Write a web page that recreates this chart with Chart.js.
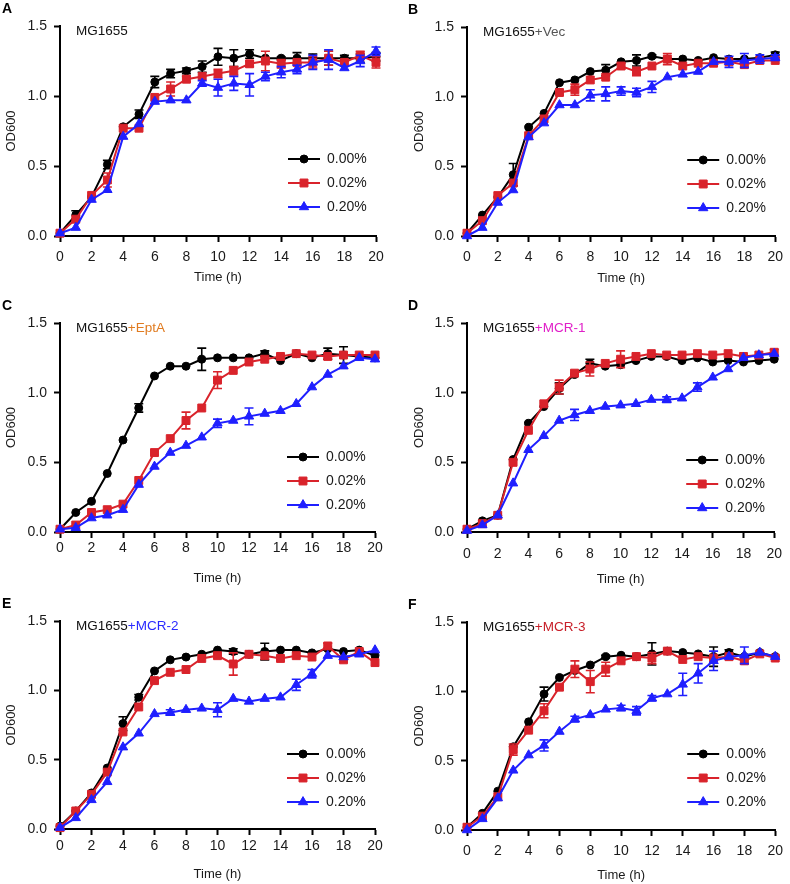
<!DOCTYPE html>
<html>
<head>
<meta charset="utf-8">
<script src="https://cdn.jsdelivr.net/npm/chart.js@4.4.0/dist/chart.umd.min.js"></script>
<style>
  body { margin: 0; background: #fff; }
  #page { position: relative; width: 790px; height: 884px; overflow: hidden; background: #fff; }
  #page canvas { position: absolute; }
</style>
</head>
<body>
<div id="page"></div>
<script>
// time points (h) and legend labels
const hours = [0,1,2,3,4,5,6,7,8,9,10,11,12,13,14,15,16,17,18,19,20];
const doseLabels = ['0.00%', '0.02%', '0.20%'];
const panelLetters = ['A', 'B', 'C', 'D', 'E', 'F'];
const strainBase = 'MG1655';
const strainSuffix = ['', '+Vec', '+EptA', '+MCR-1', '+MCR-2', '+MCR-3'];

// A - MG1655
const aCtrl = [0.02,0.15,0.28,0.51,0.78,0.87,1.10,1.16,1.18,1.21,1.28,1.27,1.30,1.27,1.27,1.27,1.27,1.27,1.27,1.27,1.28];
const aLow  = [0.02,0.12,0.29,0.40,0.77,0.77,0.99,1.05,1.12,1.14,1.16,1.18,1.23,1.25,1.23,1.24,1.24,1.27,1.24,1.29,1.24];
const aHigh = [0.02,0.06,0.26,0.33,0.71,0.80,0.96,0.97,0.97,1.09,1.06,1.09,1.08,1.14,1.17,1.19,1.24,1.26,1.20,1.25,1.32];
const aCtrlErr = [0,.03,0,.03,0,.03,.04,.03,.02,.04,.06,.06,.03,0,.01,.04,.03,.05,.02,.03,.03];
const aLowErr  = [0,0,0,.05,0,0,0,.05,.02,0,.03,.03,.02,.07,.03,0,.04,.05,0,.03,.04];
const aHighErr = [0,0,0,0,0,0,0,0,0,.02,.06,.05,.08,.03,.04,.03,.05,.07,0,.04,.03];

// B - MG1655+Vec
const bCtrl = [0.02,0.15,0.28,0.44,0.78,0.88,1.10,1.12,1.18,1.19,1.25,1.26,1.29,1.27,1.27,1.26,1.28,1.27,1.27,1.28,1.30];
const bLow  = [0.02,0.11,0.29,0.38,0.72,0.84,1.03,1.05,1.12,1.14,1.22,1.18,1.22,1.27,1.22,1.24,1.24,1.25,1.23,1.26,1.26];
const bHigh = [0.00,0.06,0.24,0.33,0.71,0.81,0.94,0.94,1.01,1.02,1.04,1.03,1.07,1.14,1.16,1.18,1.25,1.25,1.26,1.27,1.28];
const bCtrlErr = [0,0,0,.08,0,0,0,0,0,.04,0,.04,.01,0,0,0,0,0,0,0,.02];
const bLowErr  = [0,0,0,0,0,0,.02,.04,0,0,.02,.03,0,.04,0,0,0,0,0,0,0];
const bHighErr = [0,0,0,0,0,0,0,0,.04,.05,.03,.03,.04,0,0,0,0,.04,.05,.03,.02];

// C - MG1655+EptA
const cCtrl = [0.02,0.14,0.22,0.42,0.66,0.89,1.12,1.19,1.19,1.24,1.25,1.25,1.25,1.28,1.23,1.28,1.25,1.28,1.27,1.26,1.25];
const cLow  = [0.02,0.05,0.14,0.16,0.20,0.37,0.57,0.67,0.80,0.89,1.09,1.16,1.22,1.24,1.26,1.28,1.27,1.26,1.27,1.27,1.27];
const cHigh = [0.02,0.03,0.10,0.12,0.16,0.34,0.47,0.57,0.62,0.68,0.78,0.80,0.83,0.85,0.87,0.92,1.04,1.13,1.19,1.25,1.24];
const cCtrlErr = [0,0,0,0,0,.03,0,0,0,.08,0,0,0,.02,0,0,0,.04,.06,0,0];
const cLowErr  = [0,0,0,0,0,0,0,0,.06,0,.06,0,0,0,0,0,0,0,0,0,0];
const cHighErr = [0,0,0,0,0,0,0,0,0,0,.03,0,.06,0,0,0,0,0,0,0,0];

// D - MG1655+MCR-1
const dCtrl = [0.02,0.08,0.12,0.52,0.78,0.90,1.03,1.13,1.21,1.19,1.20,1.23,1.26,1.26,1.23,1.25,1.22,1.23,1.22,1.23,1.24];
const dLow  = [0.02,0.06,0.12,0.50,0.73,0.92,1.04,1.14,1.17,1.21,1.24,1.26,1.28,1.27,1.27,1.28,1.27,1.28,1.26,1.27,1.29];
const dHigh = [0.01,0.05,0.12,0.35,0.59,0.69,0.80,0.84,0.87,0.90,0.91,0.92,0.95,0.95,0.96,1.04,1.11,1.17,1.25,1.27,1.28];
const dCtrlErr = [0,0,0,0,0,0,.04,0,.03,0,0,0,0,0,0,0,0,0,0,0,0];
const dLowErr  = [0,0,0,0,0,0,.05,0,.05,0,.06,0,0,0,0,0,0,0,0,0,.02];
const dHighErr = [0,0,0,0,0,0,0,.04,0,0,0,0,0,.02,0,.03,0,0,0,0,0];

// E - MG1655+MCR-2
const eCtrl = [0.02,0.13,0.26,0.44,0.76,0.95,1.14,1.22,1.24,1.26,1.29,1.28,1.26,1.28,1.29,1.29,1.27,1.30,1.28,1.29,1.25];
const eLow  = [0.01,0.13,0.25,0.41,0.70,0.88,1.07,1.13,1.15,1.23,1.25,1.19,1.26,1.25,1.23,1.25,1.24,1.32,1.22,1.28,1.20];
const eHigh = [0.01,0.08,0.21,0.34,0.59,0.69,0.83,0.84,0.86,0.87,0.86,0.94,0.92,0.94,0.95,1.04,1.12,1.25,1.24,1.26,1.29];
const eCtrlErr = [0,0,0,0,.05,.02,0,0,0,0,0,.02,0,.06,0,0,0,0,0,0,0];
const eLowErr  = [0,0,0,0,0,0,0,0,0,0,0,.08,0,0,0,0,0,.02,0,0,0];
const eHighErr = [0,0,0,0,0,0,0,.02,0,0,.05,0,0,0,0,.04,.03,0,0,0,0];

// F - MG1655+MCR-3
const fCtrl = [0.02,0.12,0.28,0.60,0.78,0.98,1.10,1.15,1.19,1.25,1.26,1.25,1.27,1.29,1.28,1.27,1.25,1.28,1.25,1.28,1.25];
const fLow  = [0.02,0.10,0.24,0.58,0.72,0.86,1.03,1.16,1.07,1.16,1.22,1.25,1.24,1.29,1.23,1.25,1.24,1.25,1.22,1.27,1.24];
const fHigh = [0.00,0.08,0.23,0.43,0.54,0.61,0.71,0.80,0.83,0.87,0.88,0.86,0.95,0.98,1.05,1.13,1.22,1.25,1.26,1.28,1.25];
const fCtrlErr = [0,0,0,0,0,.05,0,0,0,.01,0,0,.08,0,0,0,.07,.02,0,0,0];
const fLowErr  = [0,0,0,.04,0,.05,0,.06,.08,.05,0,0,.04,0,0,0,0,0,.02,0,0];
const fHighErr = [0,0,0,0,0,.04,0,.02,0,0,.02,.03,.02,0,.08,.07,.07,0,.06,0,0];

const FONT = '"Liberation Sans", Arial, Helvetica, sans-serif';
const seriesStyle = [
  { color: '#000000', pointStyle: 'circle',   radius: 4,   order: 3 },
  { color: '#d9232b', pointStyle: 'rect',     radius: 5.6, order: 2 },
  { color: '#1f1fff', pointStyle: 'triangle', radius: 5.4, order: 1 }
];
const suffixColors = ['#000', '#555555', '#e07b20', '#e020c8', '#2a2aff', '#c8202a'];

// panel boxes (plot area edges in page pixels)
const panels = [
  { col: 0,   padL: 0,  L: 60,  R: 376, T: 26,  B: 236, tickGap: 21, titleGap: 41, legTop: 133, vals: [aCtrl, aLow, aHigh], errs: [aCtrlErr, aLowErr, aHighErr] },
  { col: 395, padL: 13, L: 467, R: 782, T: 27,  B: 236, tickGap: 21, titleGap: 42, legTop: 133, vals: [bCtrl, bLow, bHigh], errs: [bCtrlErr, bLowErr, bHighErr] },
  { col: 0,   padL: 0,  L: 60,  R: 375, T: 323, B: 532, tickGap: 16, titleGap: 46, legTop: 134, vals: [cCtrl, cLow, cHigh], errs: [cCtrlErr, cLowErr, cHighErr] },
  { col: 395, padL: 13, L: 467, R: 782, T: 323, B: 532, tickGap: 22, titleGap: 47, legTop: 137, vals: [dCtrl, dLow, dHigh], errs: [dCtrlErr, dLowErr, dHighErr] },
  { col: 0,   padL: 0,  L: 60,  R: 375, T: 621, B: 829, tickGap: 17, titleGap: 45, legTop: 133, vals: [eCtrl, eLow, eHigh], errs: [eCtrlErr, eLowErr, eHighErr] },
  { col: 395, padL: 13, L: 467, R: 782, T: 622, B: 830, tickGap: 21, titleGap: 45, legTop: 132, vals: [fCtrl, fLow, fHigh], errs: [fCtrlErr, fLowErr, fHighErr] }
];

// error bars, drawn just under each dataset's own line
const errorBars = {
  id: 'errorBars',
  beforeDatasetDraw(chart, args) {
    const ds = chart.data.datasets[args.index];
    const { ctx, scales: { x, y } } = chart;
    ctx.save();
    ctx.strokeStyle = ds.borderColor;
    ctx.lineWidth = 1.6;
    ds.data.forEach((p, j) => {
      const e = ds.errors[j];
      if (!e) return;
      const px = x.getPixelForValue(p.x);
      const top = y.getPixelForValue(p.y + e);
      const bot = y.getPixelForValue(p.y - e);
      ctx.beginPath();
      ctx.moveTo(px, top); ctx.lineTo(px, bot);
      ctx.moveTo(px - 4.5, top); ctx.lineTo(px + 4.5, top);
      ctx.moveTo(px - 4.5, bot); ctx.lineTo(px + 4.5, bot);
      ctx.stroke();
    });
    ctx.restore();
  }
};

// legend inside the plot, letter and strain name
const panelText = {
  id: 'panelText',
  afterDraw(chart, args, opts) {
    const { ctx, chartArea } = chart;
    ctx.save();
    chart.data.datasets.forEach((ds, i) => {
      const yy = chartArea.top + opts.legTop + i * 24;
      const x0 = chartArea.right - 88;
      ctx.strokeStyle = ds.borderColor;
      ctx.lineWidth = 2;
      ctx.beginPath(); ctx.moveTo(x0, yy); ctx.lineTo(x0 + 32, yy); ctx.stroke();
      ctx.fillStyle = ds.pointBackgroundColor;
      ctx.lineWidth = 1;
      Chart.helpers.drawPoint(ctx, { pointStyle: ds.pointStyle, radius: ds.pointRadius, rotation: 0, borderWidth: 1 }, x0 + 16, yy);
      ctx.fillStyle = '#1a1a1a';
      ctx.font = '14px ' + FONT;
      ctx.textBaseline = 'middle';
      ctx.textAlign = 'left';
      ctx.fillText(ds.label, chartArea.right - 49, yy);
    });

    ctx.fillStyle = '#000';
    ctx.font = 'bold 14px ' + FONT;
    ctx.textBaseline = 'middle';
    ctx.fillText(opts.letter, opts.letterX, chartArea.top - 17);

    ctx.font = '13.5px ' + FONT;
    const tx = chartArea.left + 16, ty = chartArea.top + 5;
    ctx.fillStyle = '#111';
    ctx.fillText(strainBase, tx, ty);
    ctx.fillStyle = opts.suffixColor;
    ctx.fillText(opts.suffix, tx + ctx.measureText(strainBase).width, ty);
    ctx.restore();
  }
};

function buildPanel(p, k) {
  const page = document.getElementById('page');
  const cTop = p.T - 26;
  const W = 395;
  const H = p.B - cTop + p.titleGap + 12;
  const canvas = document.createElement('canvas');
  canvas.style.left = p.col + 'px';
  canvas.style.top = cTop + 'px';
  canvas.style.width = W + 'px';
  canvas.style.height = H + 'px';
  canvas.width = W; canvas.height = H;
  page.appendChild(canvas);

  const datasets = p.vals.map((vals, i) => ({
    label: doseLabels[i],
    data: hours.map((h, j) => ({ x: h, y: vals[j] })),
    errors: p.errs[i],
    borderColor: seriesStyle[i].color,
    backgroundColor: seriesStyle[i].color,
    pointBackgroundColor: seriesStyle[i].color,
    pointBorderColor: seriesStyle[i].color,
    pointStyle: seriesStyle[i].pointStyle,
    pointRadius: seriesStyle[i].radius,
    pointBorderWidth: 1,
    borderWidth: 2,
    tension: 0,
    clip: false,
    order: seriesStyle[i].order
  }));

  const axisGrid = { display: true, drawOnChartArea: false, drawTicks: true, tickLength: 6, tickWidth: 2, tickColor: '#000' };
  const axisBorder = { display: true, color: '#000', width: 2 };

  new Chart(canvas.getContext('2d'), {
    type: 'line',
    data: { datasets: datasets },
    options: {
      responsive: false,
      animation: false,
      events: [],
      layout: { autoPadding: false, padding: { left: p.padL, top: 26, right: W - (p.R - p.col), bottom: 0 } },
      plugins: {
        legend: { display: false },
        tooltip: { enabled: false },
        panelText: { legTop: p.legTop, letter: panelLetters[k], letterX: p.col === 0 ? 2 : 13, suffix: strainSuffix[k], suffixColor: suffixColors[k] }
      },
      scales: {
        x: {
          type: 'linear', min: 0, max: 20,
          grid: axisGrid, border: axisBorder,
          ticks: { stepSize: 2, color: '#1a1a1a', padding: p.tickGap - 14, maxRotation: 0, font: { family: FONT, size: 14 } },
          title: { display: true, text: 'Time (h)', color: '#1a1a1a', font: { family: FONT, size: 13 } },
          afterFit: s => { s.height = p.titleGap + 12; }
        },
        y: {
          type: 'linear', min: 0, max: 1.5,
          grid: axisGrid, border: axisBorder,
          ticks: { stepSize: 0.5, color: '#1a1a1a', padding: 7, font: { family: FONT, size: 14 }, callback: v => v.toFixed(1) },
          title: { display: true, text: 'OD600', color: '#1a1a1a', font: { family: FONT, size: 13 } },
          afterFit: s => { s.width = p.L - p.col - p.padL; }
        }
      }
    },
    plugins: [errorBars, panelText]
  });
}

panels.forEach(buildPanel);
</script>
</body>
</html>
